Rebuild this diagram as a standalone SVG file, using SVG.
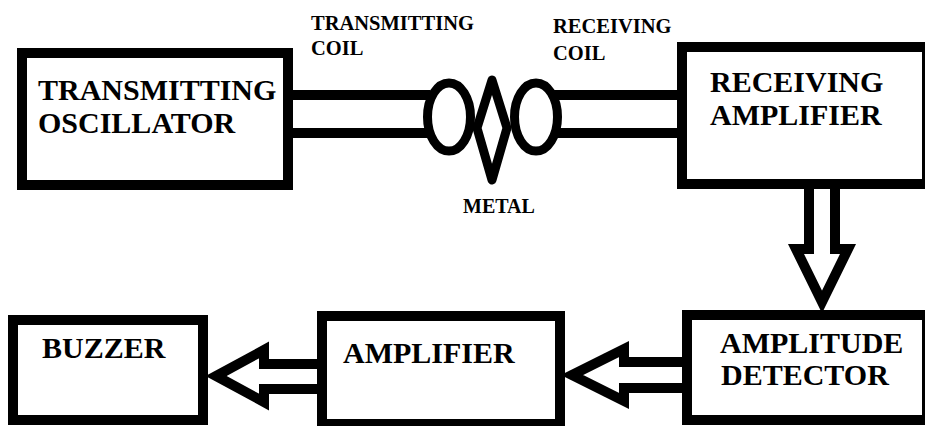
<svg xmlns="http://www.w3.org/2000/svg" width="925" height="426" viewBox="0 0 925 426">
  <style>
    .box { fill: #ffffff; stroke: #000000; stroke-width: 10; }
    .conn { fill: #ffffff; stroke: #000000; stroke-width: 10; stroke-linejoin: miter; }
    .line { fill: none; stroke: #000000; stroke-width: 10; }
    .coil { fill: #ffffff; stroke: #000000; stroke-width: 9; }
    text { font-family: 'Liberation Serif', 'Times New Roman', Times, 'DejaVu Serif', serif; font-weight: bold; fill: #000000; }
    .big { font-size: 30px; }
    .small { font-size: 20.5px; }
  </style>
  <rect width="925" height="426" fill="#ffffff"/>

  <g id="connectors">
    <line class="line" x1="290" y1="95" x2="430" y2="95"/>
    <line class="line" x1="290" y1="133" x2="430" y2="133"/>
    <line class="line" x1="552" y1="95" x2="682" y2="95"/>
    <line class="line" x1="552" y1="133" x2="682" y2="133"/>
    <polygon class="conn" points="809,183 835,183 835,249 848,249 822,302 796,249 809,249"/>
    <polygon class="conn" points="687,362 624,362 624,349 572,375 624,401 624,388 687,388"/>
    <polygon class="conn" points="322,364 264,364 264,350 216,376 264,402 264,389 322,389"/>
  </g>

  <g id="coils">
    <ellipse class="coil" cx="449" cy="117" rx="21.5" ry="34"/>
    <ellipse class="coil" cx="536" cy="117" rx="21.5" ry="34"/>
  </g>

  <g id="metal">
    <polygon points="492,80 477,128 492,180 507,128" fill="#ffffff" stroke="#000000" stroke-width="9" stroke-linejoin="round"/>
    <text class="small" x="463" y="213" style="font-size:20px">METAL</text>
  </g>

  <g id="transmitting-coil-label">
    <text class="small" x="311" y="30">TRANSMITTING</text>
    <text class="small" x="311" y="55">COIL</text>
  </g>

  <g id="receiving-coil-label">
    <text class="small" x="553" y="33">RECEIVING</text>
    <text class="small" x="553" y="60">COIL</text>
  </g>

  <g id="transmitting-oscillator">
    <rect class="box" x="22" y="53" width="266" height="132"/>
    <text class="big" x="38" y="100">TRANSMITTING</text>
    <text class="big" x="38" y="133">OSCILLATOR</text>
  </g>

  <g id="receiving-amplifier">
    <rect class="box" x="682" y="47" width="245" height="137"/>
    <text class="big" x="710" y="92">RECEIVING</text>
    <text class="big" x="710" y="125">AMPLIFIER</text>
  </g>

  <g id="amplitude-detector">
    <rect class="box" x="687" y="315" width="240" height="105"/>
    <text class="big" x="720" y="353">AMPLITUDE</text>
    <text class="big" x="721" y="385">DETECTOR</text>
  </g>

  <g id="amplifier">
    <rect class="box" x="322" y="316" width="238" height="108"/>
    <text class="big" x="343" y="363">AMPLIFIER</text>
  </g>

  <g id="buzzer">
    <rect class="box" x="13" y="320" width="190" height="100"/>
    <text class="big" x="42" y="358">BUZZER</text>
  </g>
</svg>
